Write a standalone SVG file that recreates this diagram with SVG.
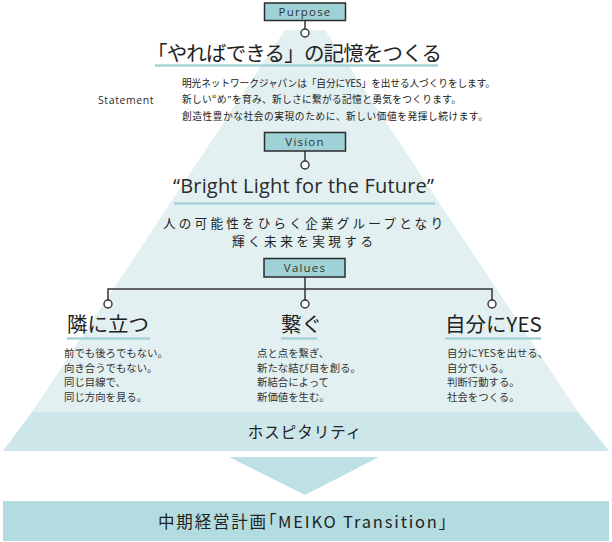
<svg xmlns="http://www.w3.org/2000/svg" width="612" height="542" viewBox="0 0 612 542">
<style>
.jp{font-family:"Noto Sans CJK JP","Noto Sans",sans-serif;fill:#222}
.en{font-family:"Open Sans","Noto Sans",sans-serif;fill:#2a2a2a}
.lbl{fill:#9fd2d6;stroke:#2b2b2b;stroke-width:1.5}
.lbltx{font-family:"Open Sans","Noto Sans",sans-serif;font-size:11.5px;letter-spacing:1.2px;fill:#333;text-anchor:middle}
.conn{fill:none;stroke:#333;stroke-width:1.5}
.dot{fill:#fff;stroke:#333;stroke-width:1.4}
.ul{stroke:#a6d2d8;stroke-width:2.5}
.body{font-family:"Noto Sans CJK JP",sans-serif;font-size:10.4px;fill:#333}
.head{font-family:"Noto Sans CJK JP",sans-serif;font-size:20.5px;fill:#222}
.palt{font-feature-settings:"palt"}
</style>
<rect width="612" height="542" fill="#fff"/>
<g id="pyramid">
<polygon points="285,30 325,30 578,412 32,412" fill="#e2f0f1"/>
</g>
<g id="hospitality">
<polygon points="32,412 578,412 609,451 3,451" fill="#cde6ea"/>
<text class="jp" x="305" y="438" font-size="15.5" letter-spacing="1" text-anchor="middle">ホスピタリティ</text>
</g>
<g id="arrow">
<polygon points="229,457 379,457 305,495" fill="#bfe0e4"/>
</g>
<g id="plan">
<rect x="3" y="501" width="606" height="40" fill="#b3dce1"/>
<text class="jp palt" x="158" y="528" font-size="16.5" textLength="289" lengthAdjust="spacing">中期経営計画「MEIKO Transition」</text>
</g>
<g id="connectors">
<path class="conn" d="M305,20 V29"/>
<path class="conn" d="M305,151 V161"/>
<path class="conn" d="M305,277 V289 M108,300 V289 H492 V300 M305,289 V300"/>
</g>
<g id="purpose">
<rect class="lbl" x="264.5" y="3" width="81" height="17.5"/>
<text class="lbltx" x="305" y="16">Purpose</text>
<circle class="dot" cx="305" cy="33" r="4"/>
<text class="jp" x="147" y="61" font-size="20.5" textLength="295" lengthAdjust="spacing">「やればできる」の記憶をつくる</text>
<line class="ul" x1="155" y1="65.5" x2="438" y2="65.5"/>
</g>
<g id="statement">
<text class="en" x="98" y="104" font-size="10.5" letter-spacing="0.6">Statement</text>
<text class="jp" x="182" y="86.5" font-size="9.7" fill="#333" textLength="313" lengthAdjust="spacing">明光ネットワークジャパンは「自分にYES」を出せる人づくりをします。</text>
<text class="jp" x="182" y="103" font-size="9.7" fill="#333" textLength="279" lengthAdjust="spacing">新しい“め”を育み、新しさに繋がる記憶と勇気をつくります。</text>
<text class="jp" x="182" y="120" font-size="9.7" fill="#333" textLength="306" lengthAdjust="spacing">創造性豊かな社会の実現のために、新しい価値を発揮し続けます。</text>
</g>
<g id="vision">
<rect class="lbl" x="264.5" y="132.5" width="81" height="18.5"/>
<text class="lbltx" x="305" y="146">Vision</text>
<circle class="dot" cx="305" cy="165" r="4"/>
<text class="en" x="173" y="193" font-size="20" font-weight="500" textLength="261" lengthAdjust="spacing">“Bright Light for the Future”</text>
<line class="ul" x1="174" y1="203.5" x2="435" y2="203.5"/>
<text class="jp" x="163" y="228" font-size="12.6" textLength="280" lengthAdjust="spacing">人の可能性をひらく企業グループとなり</text>
<text class="jp" x="232" y="246" font-size="12.6" textLength="141" lengthAdjust="spacing">輝く未来を実現する</text>
</g>
<g id="values">
<rect class="lbl" x="264" y="258.5" width="81" height="18.5"/>
<text class="lbltx" x="305" y="272">Values</text>
</g>
<g id="value-tonari">
<circle class="dot" cx="108" cy="304" r="4"/>
<text class="head" x="67" y="332">隣に立つ</text>
<line class="ul" x1="67" y1="338.5" x2="150" y2="338.5"/>
<text class="body" x="64" y="357">前でも後ろでもない。</text>
<text class="body" x="64" y="371.5">向き合うでもない。</text>
<text class="body" x="64" y="386">同じ目線で、</text>
<text class="body" x="64" y="400.5">同じ方向を見る。</text>
</g>
<g id="value-tsunagu">
<circle class="dot" cx="305" cy="304" r="4"/>
<text class="head" x="281" y="332">繋ぐ</text>
<line class="ul" x1="281" y1="338.5" x2="317" y2="338.5"/>
<text class="body" x="257" y="357">点と点を繋ぎ、</text>
<text class="body" x="257" y="371.5">新たな結び目を創る。</text>
<text class="body" x="257" y="386">新結合によって</text>
<text class="body" x="257" y="400.5">新価値を生む。</text>
</g>
<g id="value-yes">
<circle class="dot" cx="492" cy="304" r="4"/>
<text class="head" x="445" y="332">自分にYES</text>
<line class="ul" x1="445" y1="338.5" x2="541" y2="338.5"/>
<text class="body" x="447" y="357">自分にYESを出せる、</text>
<text class="body" x="447" y="371.5">自分でいる。</text>
<text class="body" x="447" y="386">判断行動する。</text>
<text class="body" x="447" y="400.5">社会をつくる。</text>
</g>
</svg>
